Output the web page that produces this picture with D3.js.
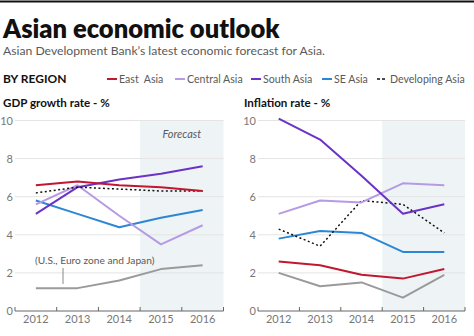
<!DOCTYPE html>
<html>
<head>
<meta charset="utf-8">
<script src="https://cdn.jsdelivr.net/npm/d3@7"></script>
<style>
  body { margin: 0; background: #fff; }
  svg { display: block; font-family: Lato, "Open Sans", sans-serif; }
  text { white-space: pre; }
</style>
</head>
<body>
<svg id="chart" width="474" height="336"></svg>
<script>
// Years shown on both panels; the last two are ADB forecasts
const years = ["2012", "2013", "2014", "2015", "2016"];
const forecastYears = ["2015", "2016"];
const yTicks = [0, 2, 4, 6, 8, 10];

// Regions in legend order
const regions = ["East  Asia", "Central Asia", "South Asia", "SE Asia", "Developing Asia"];

// GDP growth rate, %
const gdpEast = [6.6, 6.8, 6.6, 6.5, 6.3];
const gdpCentral = [5.6, 6.6, 5.0, 3.5, 4.5];
const gdpSouth = [5.1, 6.5, 6.9, 7.2, 7.6];
const gdpSE = [5.8, 5.1, 4.4, 4.9, 5.3];
const gdpDeveloping = [6.2, 6.5, 6.4, 6.3, 6.3];
const gdpMajor = [1.2, 1.2, 1.6, 2.2, 2.4];   // U.S., Euro zone and Japan

// Inflation rate, %
const infEast = [2.6, 2.4, 1.9, 1.7, 2.2];
const infCentral = [5.1, 5.8, 5.7, 6.7, 6.6];
const infSouth = [10.1, 9.0, 7.1, 5.1, 5.6];
const infSE = [3.8, 4.2, 4.1, 3.1, 3.1];
const infDeveloping = [4.3, 3.4, 5.8, 5.6, 4.1];
const infMajor = [2.0, 1.3, 1.5, 0.7, 1.9];

const colors = {
    "East  Asia": "#c0182f",
    "Central Asia": "#b69ae4",
    "South Asia": "#6a32c6",
    "SE Asia": "#2d86d4",
    "Developing Asia": "#111",
    "Major": "#9a9a9a"
};

const svg = d3.select("#chart");
const grey = "#5a5a5a";

// Header
svg.append("rect").attr("x", 0).attr("y", 0.5).attr("width", 474).attr("height", 2).attr("fill", "#111");
svg.append("text").attr("x", 3).attr("y", 37.5)
    .attr("font-size", 25.5).attr("font-weight", 800).attr("fill", "#111")
    .text("Asian economic outlook");
svg.append("text").attr("x", 3).attr("y", 55)
    .attr("font-size", 12.2).attr("fill", grey)
    .text("Asian Development Bank’s latest economic forecast for Asia.");
svg.append("text").attr("x", 3).attr("y", 83)
    .attr("font-size", 12).attr("font-weight", 700).attr("fill", "#111")
    .text("BY REGION");

// Legend
const legendX = [107, 175, 251, 322, 377];
const legend = svg.append("g");
regions.forEach((r, i) => {
    const dashed = r === "Developing Asia";
    const g = legend.append("g").attr("transform", `translate(${legendX[i]},79)`);
    g.append("line").attr("x1", 0).attr("x2", dashed ? 8 : 10)
        .attr("stroke", colors[r]).attr("stroke-width", dashed ? 1.5 : 2)
        .attr("stroke-dasharray", dashed ? "3,2" : null);
    g.append("text").attr("x", dashed ? 13 : 12).attr("y", 4)
        .attr("font-size", 10.6).attr("fill", grey).text(r);
});

// One panel of the chart
function drawPanel(opts) {
    const g = svg.append("g");
    const x = d3.scaleBand().domain(years).range([opts.x0, opts.x1]);
    const y = d3.scaleLinear().domain([0, 10]).range([311, 120.5]);

    g.append("text").attr("x", opts.titleX).attr("y", 107)
        .attr("font-size", 11.6).attr("font-weight", 700).attr("fill", "#111")
        .text(opts.title);

    // Forecast band
    g.append("rect")
        .attr("x", x(forecastYears[0])).attr("y", y(10))
        .attr("width", opts.x1 - x(forecastYears[0])).attr("height", y(0) - y(10))
        .attr("fill", "#eef4f6");

    // Gridlines
    g.selectAll(".grid").data(yTicks.slice(1)).join("line")
        .attr("x1", opts.x0).attr("x2", opts.x1)
        .attr("y1", d => y(d)).attr("y2", d => y(d))
        .attr("stroke", "#e4e4e4").attr("stroke-width", 1);

    // Y labels
    g.selectAll(".ylab").data(yTicks).join("text")
        .attr("x", opts.x0 - 2).attr("y", d => y(d) + 4)
        .attr("text-anchor", "end").attr("font-size", 11).attr("fill", "#777")
        .text(d => d);

    // X axis with ticks at band edges
    const xAxis = g.append("g").attr("transform", `translate(0,${y(0)})`);
    xAxis.append("line").attr("x1", opts.x0).attr("x2", opts.x1)
        .attr("stroke", "#666").attr("stroke-width", 1);
    const edges = years.map(d => x(d)).concat([opts.x1]);
    xAxis.selectAll(".tick").data(edges).join("line")
        .attr("x1", d => d).attr("x2", d => d).attr("y1", 0).attr("y2", -4)
        .attr("stroke", "#666");
    xAxis.selectAll(".xlab").data(years).join("text")
        .attr("x", d => x(d) + x.bandwidth() / 2).attr("y", 12)
        .attr("text-anchor", "middle").attr("font-size", 11).attr("fill", "#777")
        .text(d => d);

    const line = d3.line()
        .x((d, i) => x(years[i]) + x.bandwidth() / 2)
        .y(d => y(d));

    opts.series.forEach(s => {
        const dashed = s.key === "Developing Asia";
        g.append("path").datum(s.values)
            .attr("d", line)
            .attr("fill", "none")
            .attr("stroke", colors[s.key])
            .attr("stroke-width", dashed ? 1.5 : 2)
            .attr("stroke-dasharray", dashed ? "2,2.5" : null)
            .attr("stroke-linejoin", "round");
    });

    return { g, x, y };
}

const left = drawPanel({
    x0: 15, x1: 223.5, titleX: 3, title: "GDP growth rate - %",
    series: [
        { key: "Major", values: gdpMajor },
        { key: "SE Asia", values: gdpSE },
        { key: "Central Asia", values: gdpCentral },
        { key: "South Asia", values: gdpSouth },
        { key: "Developing Asia", values: gdpDeveloping },
        { key: "East  Asia", values: gdpEast }
    ]
});

const right = drawPanel({
    x0: 258, x1: 465, titleX: 244, title: "Inflation rate - %",
    series: [
        { key: "Major", values: infMajor },
        { key: "East  Asia", values: infEast },
        { key: "SE Asia", values: infSE },
        { key: "Developing Asia", values: infDeveloping },
        { key: "Central Asia", values: infCentral },
        { key: "South Asia", values: infSouth }
    ]
});

// "Forecast" label over the shaded years
const fx = left.x(forecastYears[0]);
left.g.append("text")
    .attr("x", (fx + 223.5) / 2).attr("y", 138)
    .attr("text-anchor", "middle").attr("font-size", 11).attr("font-style", "italic")
    .attr("fill", grey).text("Forecast");

// Note for the grey line
left.g.append("text").attr("x", 35).attr("y", 264)
    .attr("font-size", 10.2).attr("fill", grey).text("(U.S., Euro zone and Japan)");
left.g.append("line")
    .attr("x1", 63).attr("x2", 63).attr("y1", 268).attr("y2", 284)
    .attr("stroke", "#888").attr("stroke-width", 1);
</script>
</body>
</html>
